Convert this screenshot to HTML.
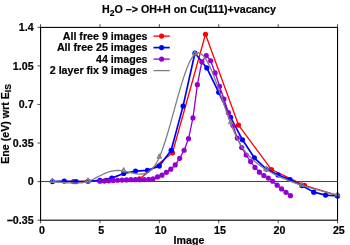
<!DOCTYPE html>
<html><head><meta charset="utf-8"><title>chart</title>
<style>
html,body{margin:0;padding:0;background:#fff;}
body{width:350px;height:245px;overflow:hidden;}
svg{display:block;will-change:transform;}
text{font-family:"Liberation Sans",sans-serif;font-weight:bold;font-size:10.67px;fill:#000;stroke:#000;stroke-width:0.2px;}
</style></head><body>
<svg width="350" height="245" viewBox="0 0 350 245">
<rect width="350" height="245" fill="#fff"/>
<text x="189" y="12.9" text-anchor="middle">H<tspan font-size="8.5" dy="2.7">2</tspan><tspan dy="-2.7">O –&gt; OH+H on Cu(111)+vacancy</tspan></text>
<g stroke="#000" stroke-width="0.7" fill="none">
<line x1="40.57" y1="220.2" x2="40.57" y2="223.29999999999998"/>
<line x1="40.57" y1="27.29" x2="40.57" y2="24.189999999999998"/>
<line x1="40.57" y1="220.20" x2="37.47" y2="220.20"/>
<line x1="99.96" y1="220.2" x2="99.96" y2="223.29999999999998"/>
<line x1="99.96" y1="27.29" x2="99.96" y2="24.189999999999998"/>
<line x1="40.57" y1="181.62" x2="37.47" y2="181.62"/>
<line x1="159.36" y1="220.2" x2="159.36" y2="223.29999999999998"/>
<line x1="159.36" y1="27.29" x2="159.36" y2="24.189999999999998"/>
<line x1="40.57" y1="143.04" x2="37.47" y2="143.04"/>
<line x1="218.75" y1="220.2" x2="218.75" y2="223.29999999999998"/>
<line x1="218.75" y1="27.29" x2="218.75" y2="24.189999999999998"/>
<line x1="40.57" y1="104.45" x2="37.47" y2="104.45"/>
<line x1="278.15" y1="220.2" x2="278.15" y2="223.29999999999998"/>
<line x1="278.15" y1="27.29" x2="278.15" y2="24.189999999999998"/>
<line x1="40.57" y1="65.87" x2="37.47" y2="65.87"/>
<line x1="337.54" y1="220.2" x2="337.54" y2="223.29999999999998"/>
<line x1="337.54" y1="27.29" x2="337.54" y2="24.189999999999998"/>
<line x1="40.57" y1="27.29" x2="37.47" y2="27.29"/>
</g>
<!-- zero axis -->
<line x1="40.57" y1="181.52" x2="337.54" y2="181.52" stroke="#000" stroke-width="0.75"/>
<!-- red -->
<polyline points="73.50,181.60 106.50,180.27 139.50,178.94 172.50,152.78 205.50,34.27 238.50,125.06 271.50,169.63 304.50,185.26 337.50,195.46" fill="none" stroke="#ff0000" stroke-width="1.3" stroke-linejoin="round"/>
<circle cx="73.50" cy="181.60" r="2.6" fill="#ff0000"/>
<circle cx="106.50" cy="180.27" r="2.6" fill="#ff0000"/>
<circle cx="139.50" cy="178.94" r="2.6" fill="#ff0000"/>
<circle cx="172.50" cy="152.78" r="2.6" fill="#ff0000"/>
<circle cx="205.50" cy="34.27" r="2.6" fill="#ff0000"/>
<circle cx="238.50" cy="125.06" r="2.6" fill="#ff0000"/>
<circle cx="271.50" cy="169.63" r="2.6" fill="#ff0000"/>
<circle cx="304.50" cy="185.26" r="2.6" fill="#ff0000"/>
<circle cx="337.50" cy="195.46" r="2.6" fill="#ff0000"/>
<!-- blue -->
<polyline points="52.38,181.60 64.26,181.05 76.14,181.60 88.02,181.27 99.90,180.27 111.78,178.16 123.66,173.51 135.54,171.07 147.42,170.29 159.30,166.08 171.18,150.34 183.06,106.10 194.94,53.00 206.82,67.97 218.70,92.36 230.58,117.30 242.46,139.81 254.34,157.77 266.22,169.07 278.10,174.95 289.98,179.49 301.86,185.59 313.74,192.13 325.62,195.12 337.50,196.01" fill="none" stroke="#0000ff" stroke-width="1.7" stroke-linejoin="round"/>
<circle cx="52.38" cy="181.60" r="2.6" fill="#0000ff"/>
<circle cx="64.26" cy="181.05" r="2.6" fill="#0000ff"/>
<circle cx="76.14" cy="181.60" r="2.6" fill="#0000ff"/>
<circle cx="88.02" cy="181.27" r="2.6" fill="#0000ff"/>
<circle cx="99.90" cy="180.27" r="2.6" fill="#0000ff"/>
<circle cx="111.78" cy="178.16" r="2.6" fill="#0000ff"/>
<circle cx="123.66" cy="173.51" r="2.6" fill="#0000ff"/>
<circle cx="135.54" cy="171.07" r="2.6" fill="#0000ff"/>
<circle cx="147.42" cy="170.29" r="2.6" fill="#0000ff"/>
<circle cx="159.30" cy="166.08" r="2.6" fill="#0000ff"/>
<circle cx="171.18" cy="150.34" r="2.6" fill="#0000ff"/>
<circle cx="183.06" cy="106.10" r="2.6" fill="#0000ff"/>
<circle cx="194.94" cy="53.00" r="2.6" fill="#0000ff"/>
<circle cx="206.82" cy="67.97" r="2.6" fill="#0000ff"/>
<circle cx="218.70" cy="92.36" r="2.6" fill="#0000ff"/>
<circle cx="230.58" cy="117.30" r="2.6" fill="#0000ff"/>
<circle cx="242.46" cy="139.81" r="2.6" fill="#0000ff"/>
<circle cx="254.34" cy="157.77" r="2.6" fill="#0000ff"/>
<circle cx="266.22" cy="169.07" r="2.6" fill="#0000ff"/>
<circle cx="278.10" cy="174.95" r="2.6" fill="#0000ff"/>
<circle cx="289.98" cy="179.49" r="2.6" fill="#0000ff"/>
<circle cx="301.86" cy="185.59" r="2.6" fill="#0000ff"/>
<circle cx="313.74" cy="192.13" r="2.6" fill="#0000ff"/>
<circle cx="325.62" cy="195.12" r="2.6" fill="#0000ff"/>
<circle cx="337.50" cy="196.01" r="2.6" fill="#0000ff"/>
<!-- purple -->
<polyline points="99.90,181.27 104.33,181.05 108.76,180.82 113.19,180.60 117.63,180.27 122.06,180.05 126.49,179.94 130.92,179.72 135.35,179.72 139.78,179.72 144.22,179.60 148.65,179.38 153.08,178.83 157.51,176.94 161.94,175.17 166.37,172.29 170.80,169.18 175.24,164.97 179.67,158.32 184.10,150.23 188.53,138.70 192.96,117.97 197.39,84.71 201.82,61.87 206.26,55.55 210.69,60.76 215.12,72.96 219.55,86.26 223.98,99.01 228.41,112.65 232.85,125.28 237.28,138.03 241.71,147.57 246.14,154.99 250.57,161.53 255.00,167.41 259.43,172.18 263.87,175.50 268.30,178.05 272.73,181.27 277.16,185.15 281.59,188.92 286.02,192.35 290.46,195.68" fill="none" stroke="#9400d3" stroke-width="1.3" stroke-linejoin="round"/>
<circle cx="99.90" cy="181.27" r="2.6" fill="#9400d3"/>
<circle cx="104.33" cy="181.05" r="2.6" fill="#9400d3"/>
<circle cx="108.76" cy="180.82" r="2.6" fill="#9400d3"/>
<circle cx="113.19" cy="180.60" r="2.6" fill="#9400d3"/>
<circle cx="117.63" cy="180.27" r="2.6" fill="#9400d3"/>
<circle cx="122.06" cy="180.05" r="2.6" fill="#9400d3"/>
<circle cx="126.49" cy="179.94" r="2.6" fill="#9400d3"/>
<circle cx="130.92" cy="179.72" r="2.6" fill="#9400d3"/>
<circle cx="135.35" cy="179.72" r="2.6" fill="#9400d3"/>
<circle cx="139.78" cy="179.72" r="2.6" fill="#9400d3"/>
<circle cx="144.22" cy="179.60" r="2.6" fill="#9400d3"/>
<circle cx="148.65" cy="179.38" r="2.6" fill="#9400d3"/>
<circle cx="153.08" cy="178.83" r="2.6" fill="#9400d3"/>
<circle cx="157.51" cy="176.94" r="2.6" fill="#9400d3"/>
<circle cx="161.94" cy="175.17" r="2.6" fill="#9400d3"/>
<circle cx="166.37" cy="172.29" r="2.6" fill="#9400d3"/>
<circle cx="170.80" cy="169.18" r="2.6" fill="#9400d3"/>
<circle cx="175.24" cy="164.97" r="2.6" fill="#9400d3"/>
<circle cx="179.67" cy="158.32" r="2.6" fill="#9400d3"/>
<circle cx="184.10" cy="150.23" r="2.6" fill="#9400d3"/>
<circle cx="188.53" cy="138.70" r="2.6" fill="#9400d3"/>
<circle cx="192.96" cy="117.97" r="2.6" fill="#9400d3"/>
<circle cx="197.39" cy="84.71" r="2.6" fill="#9400d3"/>
<circle cx="201.82" cy="61.87" r="2.6" fill="#9400d3"/>
<circle cx="206.26" cy="55.55" r="2.6" fill="#9400d3"/>
<circle cx="210.69" cy="60.76" r="2.6" fill="#9400d3"/>
<circle cx="215.12" cy="72.96" r="2.6" fill="#9400d3"/>
<circle cx="219.55" cy="86.26" r="2.6" fill="#9400d3"/>
<circle cx="223.98" cy="99.01" r="2.6" fill="#9400d3"/>
<circle cx="228.41" cy="112.65" r="2.6" fill="#9400d3"/>
<circle cx="232.85" cy="125.28" r="2.6" fill="#9400d3"/>
<circle cx="237.28" cy="138.03" r="2.6" fill="#9400d3"/>
<circle cx="241.71" cy="147.57" r="2.6" fill="#9400d3"/>
<circle cx="246.14" cy="154.99" r="2.6" fill="#9400d3"/>
<circle cx="250.57" cy="161.53" r="2.6" fill="#9400d3"/>
<circle cx="255.00" cy="167.41" r="2.6" fill="#9400d3"/>
<circle cx="259.43" cy="172.18" r="2.6" fill="#9400d3"/>
<circle cx="263.87" cy="175.50" r="2.6" fill="#9400d3"/>
<circle cx="268.30" cy="178.05" r="2.6" fill="#9400d3"/>
<circle cx="272.73" cy="181.27" r="2.6" fill="#9400d3"/>
<circle cx="277.16" cy="185.15" r="2.6" fill="#9400d3"/>
<circle cx="281.59" cy="188.92" r="2.6" fill="#9400d3"/>
<circle cx="286.02" cy="192.35" r="2.6" fill="#9400d3"/>
<circle cx="290.46" cy="195.68" r="2.6" fill="#9400d3"/>
<!-- gray -->
<polyline points="52.38,181.60 54.17,181.76 55.97,181.92 57.76,182.07 59.55,182.22 61.35,182.37 63.14,182.50 64.93,182.63 66.73,182.75 68.52,182.85 70.31,182.94 72.11,183.00 73.90,183.05 75.69,183.05 77.48,183.01 79.28,182.91 81.07,182.74 82.86,182.50 84.66,182.17 86.45,181.73 88.24,181.19 90.04,180.54 91.83,179.80 93.62,178.98 95.42,178.10 97.21,177.20 99.00,176.28 100.80,175.38 102.59,174.50 104.38,173.67 106.18,172.91 107.97,172.24 109.76,171.66 111.56,171.18 113.35,170.82 115.14,170.59 116.94,170.48 118.73,170.50 120.52,170.62 122.32,170.85 124.11,171.15 125.90,171.53 127.69,171.94 129.49,172.38 131.28,172.82 133.07,173.23 134.87,173.59 136.66,173.87 138.45,174.05 140.25,174.11 142.04,174.02 143.83,173.75 145.63,173.25 147.42,172.49 149.21,171.41 151.01,169.97 152.80,168.12 154.59,165.83 156.39,163.03 158.18,159.70 159.97,155.78 161.77,151.28 163.56,146.26 165.35,140.81 167.15,134.99 168.94,128.89 170.73,122.57 172.52,116.11 174.32,109.59 176.11,103.07 177.90,96.65 179.70,90.38 181.49,84.35 183.28,78.62 185.08,73.28 186.87,68.40 188.66,64.05 190.46,60.31 192.25,57.25 194.04,54.95 195.84,53.48 197.63,52.85 199.42,53.00 201.22,53.89 203.01,55.44 204.80,57.61 206.60,60.34 208.39,63.58 210.18,67.26 211.98,71.33 213.77,75.74 215.56,80.43 217.36,85.33 219.15,90.41 220.94,95.59 222.73,100.83 224.53,106.06 226.32,111.23 228.11,116.29 229.91,121.18 231.70,125.84 233.49,130.24 235.29,134.37 237.08,138.21 238.87,141.74 240.67,144.96 242.46,147.85 244.25,150.40 246.05,152.68 247.84,154.73 249.63,156.59 251.43,158.33 253.22,159.98 255.01,161.53 256.81,163.00 258.60,164.40 260.39,165.73 262.19,166.99 263.98,168.19 265.77,169.35 267.56,170.45 269.36,171.51 271.15,172.53 272.94,173.52 274.74,174.46 276.53,175.36 278.32,176.23 280.12,177.07 281.91,177.88 283.70,178.66 285.50,179.41 287.29,180.13 289.08,180.83 290.88,181.51 292.67,182.16 294.46,182.80 296.26,183.42 298.05,184.02 299.84,184.61 301.64,185.19 303.43,185.75 305.22,186.31 307.02,186.86 308.81,187.40 310.60,187.93 312.40,188.45 314.19,188.96 315.98,189.47 317.77,189.97 319.57,190.47 321.36,190.96 323.15,191.45 324.95,191.93 326.74,192.41 328.53,192.89 330.33,193.36 332.12,193.83 333.91,194.30 335.71,194.77 337.50,195.24" fill="none" stroke="#7f7f7f" stroke-width="1.3" stroke-linejoin="round"/>
<path d="M52.38,178.30 L54.53,182.40 L50.23,182.40 Z" fill="none" stroke="#7f7f7f" stroke-width="1.15" stroke-linejoin="round"/>
<path d="M88.02,177.97 L90.17,182.07 L85.87,182.07 Z" fill="none" stroke="#7f7f7f" stroke-width="1.15" stroke-linejoin="round"/>
<path d="M123.66,167.77 L125.81,171.87 L121.51,171.87 Z" fill="none" stroke="#7f7f7f" stroke-width="1.15" stroke-linejoin="round"/>
<path d="M159.30,154.02 L161.45,158.12 L157.15,158.12 Z" fill="none" stroke="#7f7f7f" stroke-width="1.15" stroke-linejoin="round"/>
<path d="M194.94,50.81 L197.09,54.91 L192.79,54.91 Z" fill="none" stroke="#7f7f7f" stroke-width="1.15" stroke-linejoin="round"/>
<path d="M230.58,119.66 L232.73,123.76 L228.43,123.76 Z" fill="none" stroke="#7f7f7f" stroke-width="1.15" stroke-linejoin="round"/>
<path d="M266.22,166.33 L268.37,170.43 L264.07,170.43 Z" fill="none" stroke="#7f7f7f" stroke-width="1.15" stroke-linejoin="round"/>
<path d="M301.86,181.96 L304.01,186.06 L299.71,186.06 Z" fill="none" stroke="#7f7f7f" stroke-width="1.15" stroke-linejoin="round"/>
<path d="M337.50,191.94 L339.65,196.04 L335.35,196.04 Z" fill="none" stroke="#7f7f7f" stroke-width="1.15" stroke-linejoin="round"/>
<!-- legend -->
<line x1="153.5" y1="36.1" x2="169.8" y2="36.1" stroke="#ff0000" stroke-width="1.3"/>
<circle cx="161.6" cy="36.1" r="2.6" fill="#ff0000"/>
<line x1="153.5" y1="47.6" x2="169.8" y2="47.6" stroke="#0000ff" stroke-width="1.7"/>
<circle cx="161.6" cy="47.6" r="2.6" fill="#0000ff"/>
<line x1="153.5" y1="59.1" x2="169.8" y2="59.1" stroke="#9400d3" stroke-width="1.3"/>
<circle cx="161.6" cy="59.1" r="2.6" fill="#9400d3"/>
<line x1="153.5" y1="70.6" x2="169.8" y2="70.6" stroke="#7f7f7f" stroke-width="1.3"/>
<text x="147.5" y="39.70" text-anchor="end" font-size="10.8">All free 9 images</text>
<text x="147.5" y="51.20" text-anchor="end" font-size="10.8">All free 25 images</text>
<text x="147.5" y="62.70" text-anchor="end" font-size="10.8">44 images</text>
<text x="147.5" y="74.20" text-anchor="end" font-size="10.8">2 layer fix 9 images</text>
<!-- border -->
<rect x="40.57" y="27.41" width="296.97" height="192.79" fill="none" stroke="#000" stroke-width="1.1"/>
<text x="41.87" y="233.9" text-anchor="middle">0</text>
<text x="101.26" y="233.9" text-anchor="middle">5</text>
<text x="160.66" y="233.9" text-anchor="middle">10</text>
<text x="220.05" y="233.9" text-anchor="middle">15</text>
<text x="279.45" y="233.9" text-anchor="middle">20</text>
<text x="338.84" y="233.9" text-anchor="middle">25</text>
<text x="33.6" y="223.80" text-anchor="end">−0.35</text>
<text x="33.6" y="184.80" text-anchor="end">0</text>
<text x="33.6" y="146.80" text-anchor="end">0.35</text>
<text x="33.6" y="107.80" text-anchor="end">0.7</text>
<text x="33.6" y="69.80" text-anchor="end">1.05</text>
<text x="33.6" y="30.80" text-anchor="end">1.4</text>
<text x="189" y="243.6" text-anchor="middle">Image</text>
<text transform="translate(8.8,124) rotate(-90)" text-anchor="middle">Ene (eV) wrt E<tspan font-size="8.5" dy="2.3">IS</tspan></text>
</svg>
</body></html>
